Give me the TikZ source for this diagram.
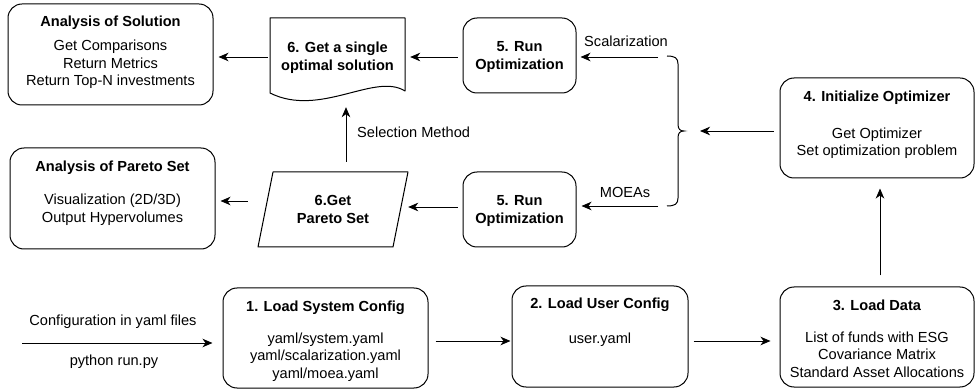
\documentclass[tikz,border=0pt]{standalone}
\usepackage{fontspec}
\setmainfont{Liberation Sans}
\usetikzlibrary{arrows.meta}
\begin{document}
\begin{tikzpicture}[x=1pt,y=-1pt,
  box/.style={draw, line width=1pt, rounded corners=14pt, inner sep=0pt},
  ghost/.style={inner sep=0pt},
  txt/.style={align=center, inner sep=0pt, font=\fontsize{14.6}{17.5}\selectfont},
  lbl/.style={inner sep=0pt, font=\fontsize{14.6}{17.5}\selectfont},
  arr/.style={line width=0.9pt, -{Stealth[length=10pt,width=8.5pt,inset=3pt]}},
  shp/.style={draw, line width=1pt, line join=round}
]
\useasboundingbox (0,0) rectangle (975,390);

% ---- boxes ----
\node[box, minimum width=205pt, minimum height=101pt] (sol) at (110.5,54.5) {};
\node[txt] (solt) at (110.5,52) {\textbf{Analysis of Solution}\\[7pt]Get Comparisons\\Return Metrics\\Return Top-N investments};

\node[box, minimum width=205pt, minimum height=101pt] (par) at (112.5,198.5) {};
\node[txt] (part) at (112.5,193) {\textbf{Analysis of Pareto Set}\\[15.5pt]Visualization (2D/3D)\\Output Hypervolumes};

\node[box, minimum width=113pt, minimum height=75pt] (runa) at (519.5,55.5) {};
\node[txt] (runat) at (519.5,57) {\textbf{5. Run}\\\textbf{Optimization}};

\node[box, minimum width=113pt, minimum height=75pt] (runb) at (519.5,209.5) {};
\node[txt] (runbt) at (519.5,211) {\textbf{5. Run}\\\textbf{Optimization}};

\node[box, minimum width=194pt, minimum height=100pt] (init) at (877,128) {};
\node[txt] (initt) at (877,124.5) {\textbf{4. Initialize Optimizer}\\[19.5pt]Get Optimizer\\Set optimization problem};

\node[box, minimum width=194pt, minimum height=100pt] (data) at (877,337) {};
\node[txt] (datat) at (877,338.5) {\textbf{3. Load Data}\\[14.5pt]List of funds with ESG\\Covariance Matrix\\Standard Asset Allocations};

\node[box, minimum width=176pt, minimum height=101pt] (usr) at (600,336.5) {};
\node[txt] (usrt) at (600,322.5) {\textbf{2. Load User Config}\\[17.5pt]user.yaml};

\node[box, minimum width=205pt, minimum height=100pt] (sys) at (325.5,338) {};
\node[txt] (syst) at (325.5,341) {\textbf{1. Load System Config}\\[14.5pt]yaml/system.yaml\\yaml/scalarization.yaml\\yaml/moea.yaml};

% ---- document shape ----
\draw[shp] (270,18) -- (405,18) -- (405,91) .. controls (375,72) and (320,118) .. (270,93) -- cycle;
\node[ghost, minimum width=135pt, minimum height=75pt] (docn) at (337.5,55.5) {};
\node[txt] (doct) at (337.5,57.5) {\textbf{6. Get a single}\\\textbf{optimal solution}};

% ---- parallelogram ----
\draw[shp] (273,172) -- (408,172) -- (393,247) -- (258,247) -- cycle;
\node[ghost, minimum width=150pt, minimum height=75pt] (paran) at (333,209.5) {};
\node[txt] (parat) at (333,209.5) {\textbf{6.Get}\\\textbf{Pareto Set}};

% ---- brace ----
\draw[line width=1pt] (667,56) .. controls (675,56) and (678,58) .. (678,64) -- (678,124)
  .. controls (678,129) and (680,131) .. (684,131)
  .. controls (680,131) and (678,133) .. (678,138) -- (678,198)
  .. controls (678,204) and (675,206) .. (667,206);

% ---- coordinates ----
\coordinate (ra) at (658,57);
\coordinate (rb) at (658,206);
\coordinate (bt) at (700,131);
\coordinate (vx) at (880,0);
\coordinate (selx) at (346,0);
\coordinate (in0) at (22,343);
\coordinate (r1) at (0,57);
\coordinate (r2) at (0,207);
\coordinate (r3) at (0,201);
\coordinate (r4) at (0,341);

% ---- connectors ----
\draw[arr, shorten >=4pt] (ra) -- (runa.east |- ra);
\draw[arr, shorten >=5pt] (rb) -- (runb.east |- rb);
\draw[arr, shorten <=5pt, shorten >=5pt] (runa.west |- r1) -- (docn.east |- r1);
\draw[arr, shorten <=2pt, shorten >=5pt] (docn.west |- r1) -- (sol.east |- r1);
\draw[arr, shorten <=5pt] (runb.west |- r2) -- (paran.east |- r2);
\draw[arr, shorten <=10pt, shorten >=5pt] (paran.west |- r3) -- (par.east |- r3);
\draw[arr, shorten <=10pt, shorten >=14pt] (paran.north -| selx) -- (docn.south -| selx);
\draw[arr, shorten <=6pt] (init.west |- bt) -- (bt);
\draw[arr, shorten <=11pt, shorten >=10pt] (data.north -| vx) -- (init.south -| vx);
\draw[arr, shorten <=7pt, shorten >=1pt] (sys.east |- r4) -- (usr.west |- r4);
\draw[arr, shorten <=5pt, shorten >=9pt] (usr.east |- r4) -- (data.west |- r4);
\draw[arr, shorten >=10pt] (in0) -- (sys.west |- in0);

% ---- labels ----
\node[lbl] (scal) at (626,41) {Scalarization};
\node[lbl] (moea) at (625,192) {MOEAs};
\node[lbl, anchor=west] (selm) at (357,132) {Selection Method};
\node[lbl] (cfg) at (113,322) {Configuration in yaml files};
\node[lbl] (py) at (114,362) {python run.py};
\end{tikzpicture}
\end{document}
